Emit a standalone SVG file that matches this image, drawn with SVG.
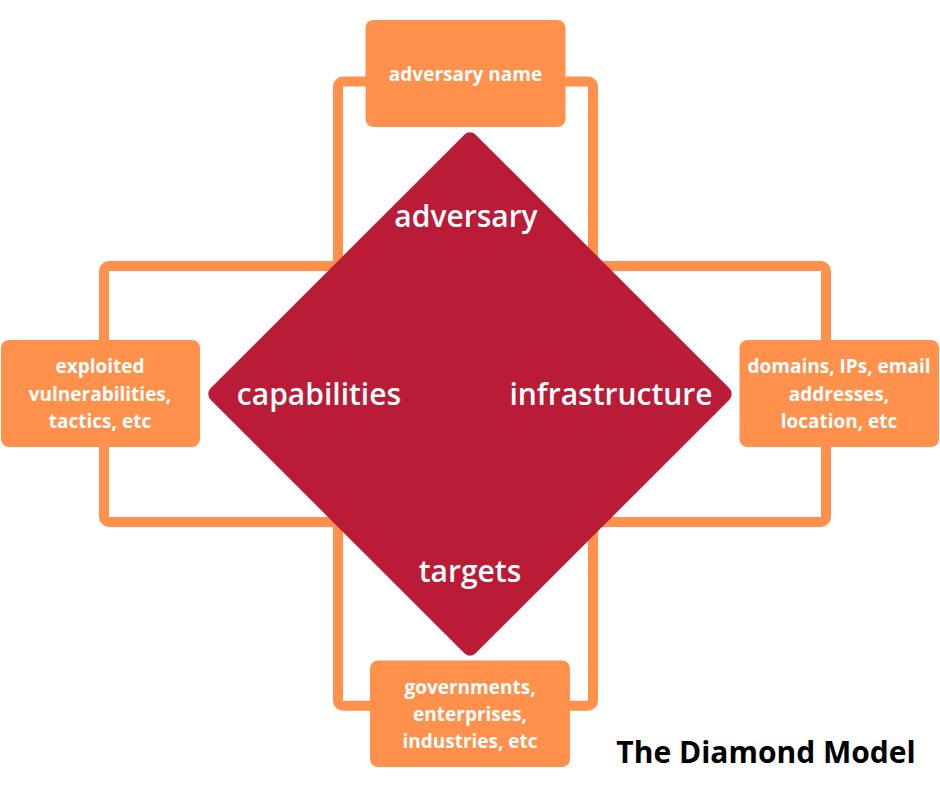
<svg xmlns="http://www.w3.org/2000/svg" width="940" height="788" viewBox="0 0 940 788">
<style>
.frame{fill:none;stroke:#FF914D;stroke-width:10}
.box{fill:#FF914D}
.bt{font-family:"Open Sans",sans-serif;font-weight:700;font-size:19px;fill:#FFFFFF;text-anchor:middle}
.dl{font-family:"Open Sans",sans-serif;font-weight:600;font-size:30px;fill:#FFFFFF;text-anchor:middle}
.title{font-family:"Open Sans",sans-serif;font-weight:700;font-size:30px;fill:#000000;text-anchor:middle}
</style>
<rect width="940" height="788" fill="#FFFFFF"/>
<g id="connectors">
<path class="frame" d="M338,300 V86.5 A5,5 0 0 1 343,81.5 H588 A5,5 0 0 1 593,86.5 V300"/>
<path class="frame" d="M370,266 H109 A5,5 0 0 0 104,271 V517 A5,5 0 0 0 109,522 H370"/>
<path class="frame" d="M560,266 H821 A5,5 0 0 1 826,271 V517 A5,5 0 0 1 821,522 H560"/>
<path class="frame" d="M338,490 V700.7 A5,5 0 0 0 343,705.7 H588 A5,5 0 0 0 593,700.7 V490"/>
</g>
<g id="diamond">
<rect x="282.6" y="206.6" width="374.8" height="374.8" rx="8" fill="#BA1B36" transform="rotate(45 470 394)"/>
<text class="dl" x="466" y="227">adversary</text>
<text class="dl" x="319" y="404.5">capabilities</text>
<text class="dl" x="611" y="404.5">infrastructure</text>
<text class="dl" x="470" y="581.5">targets</text>
</g>
<g id="adversary-name">
<rect class="box" x="365.5" y="20" width="200" height="107" rx="8"/>
<text class="bt" x="465.5" y="81">adversary name</text>
</g>
<g id="capabilities-box">
<rect class="box" x="1" y="340" width="199" height="107" rx="8"/>
<text class="bt" x="100" y="373">exploited</text>
<text class="bt" x="100" y="400.7">vulnerabilities,</text>
<text class="bt" x="100" y="428">tactics, etc</text>
</g>
<g id="infrastructure-box">
<rect class="box" x="739.5" y="340" width="199.5" height="107" rx="8"/>
<text class="bt" x="839" y="373">domains, IPs, email</text>
<text class="bt" x="839" y="400.7">addresses,</text>
<text class="bt" x="839" y="428">location, etc</text>
</g>
<g id="targets-box">
<rect class="box" x="370" y="660.5" width="200" height="106.5" rx="8"/>
<text class="bt" x="470" y="694">governments,</text>
<text class="bt" x="470" y="720.7">enterprises,</text>
<text class="bt" x="470" y="748">industries, etc</text>
</g>
<g id="title">
<text class="title" x="766" y="762.7">The Diamond Model</text>
</g>
</svg>
